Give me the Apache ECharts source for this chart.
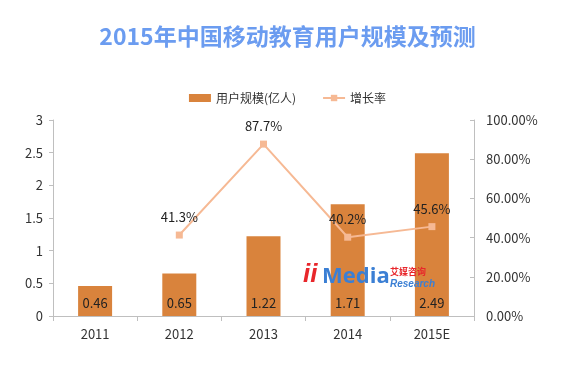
<!DOCTYPE html>
<html><head><meta charset="utf-8">
<script src="https://cdn.jsdelivr.net/npm/echarts@6/dist/echarts.min.js"></script>
<style>html,body{margin:0;padding:0;background:#fff}#c{width:575px;height:376px}</style>
</head><body><div id="c"></div>
<script>
const categories = ['2011','2012','2013','2014','2015E'];
const users = [0.46, 0.65, 1.22, 1.71, 2.49];
const growth = [null, 0.413, 0.877, 0.402, 0.456];

const chart = echarts.init(document.getElementById('c'));
const font = '"Noto Sans CJK SC", "Open Sans", sans-serif';
chart.setOption({
  animation: false,
  title: {
    text: '2015年中国移动教育用户规模及预测',
    left: 'center', top: 20,
    textStyle: {color: '#6b9cf0', fontSize: 23, fontWeight: 'bold', fontFamily: font}
  },
  legend: {
    top: 87, left: 'center',
    itemGap: 26,
    textStyle: {color: '#333', fontSize: 12, fontFamily: font},
    data: [
      {name: '用户规模(亿人)', icon: 'rect', itemStyle: {color: '#d9833c'}},
      {name: '增长率'}
    ],
    itemWidth: 22, itemHeight: 8
  },
  grid: {left: 53, right: 101, top: 120, bottom: 60},
  xAxis: {
    type: 'category', data: categories,
    axisLine: {lineStyle: {color: '#bfbfbf'}},
    axisTick: {show: true, alignWithLabel: false, lineStyle: {color: '#bfbfbf'}, length: 5},
    axisLabel: {color: '#333', fontSize: 13, margin: 12, fontFamily: font}
  },
  yAxis: [
    {
      type: 'value', min: 0, max: 3, interval: 0.5,
      axisLine: {show: true, lineStyle: {color: '#bfbfbf'}},
      axisTick: {show: true, lineStyle: {color: '#bfbfbf'}, length: 4},
      splitLine: {show: false},
      axisLabel: {color: '#333', fontSize: 13, margin: 10, fontFamily: font,
        formatter: v => String(v)}
    },
    {
      type: 'value', min: 0, max: 1, interval: 0.2,
      axisLine: {show: true, lineStyle: {color: '#bfbfbf'}},
      axisTick: {show: true, inside: true, lineStyle: {color: '#bfbfbf'}, length: 4},
      splitLine: {show: false},
      axisLabel: {color: '#333', fontSize: 13, margin: 12, fontFamily: font,
        formatter: v => (v * 100).toFixed(2) + '%'}
    }
  ],
  series: [
    {
      name: '用户规模(亿人)', type: 'bar', data: users, barWidth: 34,
      itemStyle: {color: '#d9833c'},
      label: {show: true, position: 'insideBottom', distance: 6, color: '#222', fontSize: 13, fontFamily: font}
    },
    {
      name: '增长率', type: 'line', yAxisIndex: 1, data: growth,
      symbol: 'rect', symbolSize: 7,
      lineStyle: {color: '#f6b994', width: 2},
      itemStyle: {color: '#f6b994'},
      label: {show: true, position: 'top', distance: 8, color: '#222', fontSize: 13, fontFamily: font,
        formatter: p => (p.value * 100).toFixed(1) + '%'}
    }
  ],
  graphic: [
    {type: 'text', z: 100, left: 303, top: 262, style: {text: 'ii', fill: '#e8262b', font: 'bold italic 26px sans-serif'}},
    {type: 'text', z: 100, left: 322, top: 266, style: {text: 'Media', fill: '#3b7fd4', font: 'bold 22px "Open Sans", sans-serif'}},
    {type: 'text', z: 100, left: 390, top: 267, style: {text: '艾媒咨询', fill: '#e8262b', font: 'bold 9px "Noto Sans CJK SC"'}},
    {type: 'text', z: 100, left: 390, top: 279, style: {text: 'Research', fill: '#3b7fd4', font: 'italic bold 10px sans-serif'}}
  ]
});
</script></body></html>
